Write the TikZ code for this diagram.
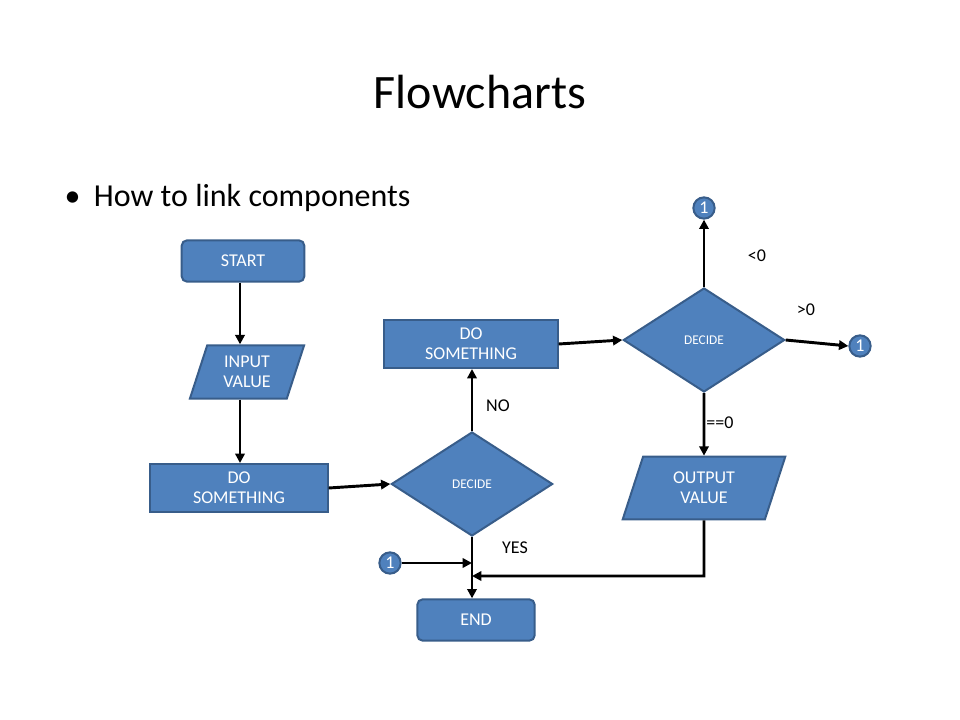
\documentclass[tikz,border=0pt]{standalone}
\usepackage{fontspec}
\setmainfont{Carlito}
\usetikzlibrary{shapes.geometric,arrows.meta}
\definecolor{bfill}{HTML}{4F81BD}
\definecolor{bline}{HTML}{385D8A}
\begin{document}
\begin{tikzpicture}[x=0.75pt,y=-0.75pt,
  box/.style={draw=bline,line width=1.5pt,fill=bfill,text=white,font=\fontsize{13.5}{15}\selectfont,align=center,inner sep=0pt},
  term/.style={box,rounded corners=4pt,minimum width=92pt,minimum height=31pt},
  proc/.style={box,minimum width=133pt,minimum height=36pt},
  para/.style={box,trapezium,trapezium left angle=72,trapezium right angle=108,minimum height=40pt},
  dec/.style={box,diamond,minimum width=121pt,minimum height=78pt,font=\fontsize{10}{12}\selectfont},
  conn/.style={box,circle,minimum size=16pt},
  arr/.style={line width=2.2pt,-{Triangle[length=7pt,width=7pt]}},
  lab/.style={font=\fontsize{13.5}{15}\selectfont}]
\useasboundingbox (0,0) rectangle (960,720);
\node[font=\fontsize{36}{40}\selectfont] (title) at (480,92) {Flowcharts};
\node[anchor=west,font=\fontsize{24}{28}\selectfont] (bul) at (60,198) {\textbullet\hspace{10pt}How to link components};
\node[term] (start) at (243,261) {START};
\node[para,minimum width=82pt] (input) at (247,372) {INPUT\\VALUE};
\node[proc] (do1) at (239,488) {DO\\SOMETHING};
\node[dec] (dec1) at (472,484) {DECIDE};
\node[proc,minimum width=130pt] (do2) at (471,344) {DO\\SOMETHING};
\node[dec] (dec2) at (704,340) {DECIDE};
\node[conn] (c1) at (704,208) {1};
\node[conn] (c2) at (860,346) {1};
\node[conn] (c3) at (390,563) {1};
\node[para,minimum width=110pt,minimum height=47pt] (out) at (704,488) {OUTPUT\\VALUE};
\node[term,minimum width=88pt] (end) at (476,620) {END};
\coordinate (j) at (472,563);
\coordinate (j2) at (704,576);
\coordinate (j3) at (472,576);
\draw[arr] (start.south -| 240,0) -- (input.north -| 240,0);
\draw[arr] (input.south -| 240,0) -- (do1.north -| 240,0);
\draw[arr] (do1.east) -- (dec1.west);
\draw[arr] (dec1.north) -- (do2.south -| dec1.north);
\draw[arr] (do2.east) -- (dec2.west);
\draw[arr] (dec2.north) -- (c1.south);
\draw[arr] (dec2.east) -- (c2.west);
\draw[arr] (dec2.south) -- (out.north);
\draw[arr] (dec1.south) -- (end.north -| dec1.south);
\draw[arr] (c3.east) -- (j);
\draw[arr] (out.south) -- (j2) -- (j3);
\node[lab] (l1) at (757,256) {<0};
\node[lab] (l2) at (806,310) {>0};
\node[lab] (l3) at (720,423) {==0};
\node[lab] (l4) at (498,406) {NO};
\node[lab] (l5) at (515,548) {YES};
\end{tikzpicture}
\end{document}
